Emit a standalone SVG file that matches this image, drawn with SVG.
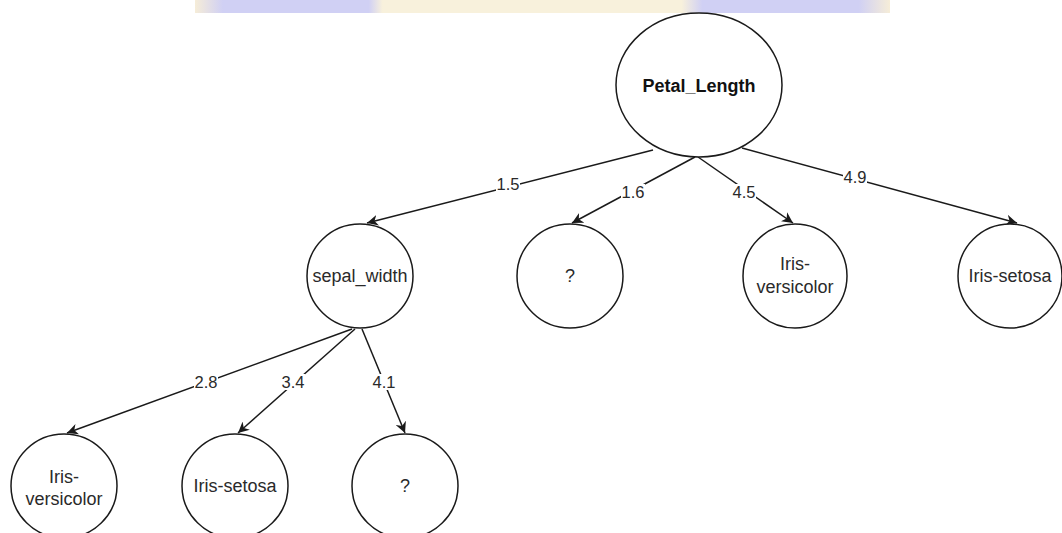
<svg xmlns="http://www.w3.org/2000/svg" width="1062" height="533" viewBox="0 0 1062 533">
  <style>
    .node { fill: #ffffff; stroke: #1a1a1a; stroke-width: 1.5; }
    .txt { font-family: "Liberation Sans", Arial, sans-serif; font-size: 18px; fill: #2a2a2a; text-anchor: middle; }
    .bold { font-weight: bold; font-size: 18px; fill: #111111; }
    .edge { fill: none; stroke: #1a1a1a; stroke-width: 1.5; marker-end: url(#arrow); }
    .lbl { font-family: "Liberation Sans", Arial, sans-serif; font-size: 16.5px; fill: #2a2a2a; text-anchor: middle; }
    .lblbg { fill: #ffffff; }
  </style>
  <defs>
    <marker id="arrow" viewBox="0 0 10 10" refX="10" refY="5" markerWidth="11" markerHeight="11" markerUnits="userSpaceOnUse" orient="auto">
      <path d="M0,0 L10,5 L0,10 L3,5 Z" fill="#1a1a1a"/>
    </marker>
    <linearGradient id="band" x1="0" y1="0" x2="1" y2="0">
      <stop offset="0" stop-color="#f6edd8"/>
      <stop offset="0.04" stop-color="#d0d0f4"/>
      <stop offset="0.25" stop-color="#d0d0f4"/>
      <stop offset="0.27" stop-color="#f8f1dc"/>
      <stop offset="0.70" stop-color="#f8f1dc"/>
      <stop offset="0.73" stop-color="#d0d0f4"/>
      <stop offset="0.955" stop-color="#d0d0f4"/>
      <stop offset="1" stop-color="#f6edd8"/>
    </linearGradient>
  </defs>

  <rect width="1062" height="533" fill="#ffffff"/>
  <!-- coloured strip along the top edge -->
  <rect x="195" y="0" width="695" height="13" fill="url(#band)"/>

  <!-- connectors -->
  <g id="connectors">
    <line class="edge" x1="653" y1="150" x2="367" y2="223"/>
    <line class="edge" x1="695" y1="157" x2="572" y2="223"/>
    <line class="edge" x1="698" y1="157" x2="793" y2="223"/>
    <line class="edge" x1="742" y1="148" x2="1017" y2="223"/>
    <line class="edge" x1="352" y1="329" x2="67" y2="433"/>
    <line class="edge" x1="355" y1="329" x2="238" y2="433"/>
    <line class="edge" x1="362" y1="329" x2="405" y2="433"/>

    <rect class="lblbg" x="496" y="176" width="24" height="16"/>
    <text class="lbl" x="508" y="190">1.5</text>
    <rect class="lblbg" x="621" y="184" width="24" height="16"/>
    <text class="lbl" x="633" y="198">1.6</text>
    <rect class="lblbg" x="732" y="184" width="24" height="16"/>
    <text class="lbl" x="744" y="198">4.5</text>
    <rect class="lblbg" x="843" y="169" width="24" height="16"/>
    <text class="lbl" x="855" y="183">4.9</text>
    <rect class="lblbg" x="194" y="374" width="24" height="16"/>
    <text class="lbl" x="206" y="388">2.8</text>
    <rect class="lblbg" x="281" y="374" width="24" height="16"/>
    <text class="lbl" x="293" y="388">3.4</text>
    <rect class="lblbg" x="372" y="374" width="24" height="16"/>
    <text class="lbl" x="384" y="388">4.1</text>
  </g>

  <!-- nodes -->
  <g id="node-petal-length">
    <ellipse class="node" cx="699" cy="85" rx="83" ry="72"/>
    <text class="txt bold" x="699" y="92">Petal_Length</text>
  </g>
  <g id="node-sepal-width">
    <ellipse class="node" cx="360" cy="276" rx="53" ry="52"/>
    <text class="txt" x="360" y="282">sepal_width</text>
  </g>
  <g id="node-unknown-1">
    <ellipse class="node" cx="570" cy="276" rx="53" ry="52"/>
    <text class="txt" x="570" y="282">?</text>
  </g>
  <g id="node-versicolor-1">
    <ellipse class="node" cx="795" cy="276" rx="52" ry="52"/>
    <text class="txt" x="795" y="270">Iris-</text>
    <text class="txt" x="795" y="293">versicolor</text>
  </g>
  <g id="node-setosa-1">
    <ellipse class="node" cx="1010" cy="276" rx="52" ry="52"/>
    <text class="txt" x="1010" y="282">Iris-setosa</text>
  </g>
  <g id="node-versicolor-2">
    <ellipse class="node" cx="64" cy="486" rx="53" ry="52"/>
    <text class="txt" x="64" y="483">Iris-</text>
    <text class="txt" x="64" y="505">versicolor</text>
  </g>
  <g id="node-setosa-2">
    <ellipse class="node" cx="235" cy="486" rx="53" ry="52"/>
    <text class="txt" x="235" y="492">Iris-setosa</text>
  </g>
  <g id="node-unknown-2">
    <ellipse class="node" cx="405" cy="486" rx="53" ry="52"/>
    <text class="txt" x="405" y="492">?</text>
  </g>
</svg>
